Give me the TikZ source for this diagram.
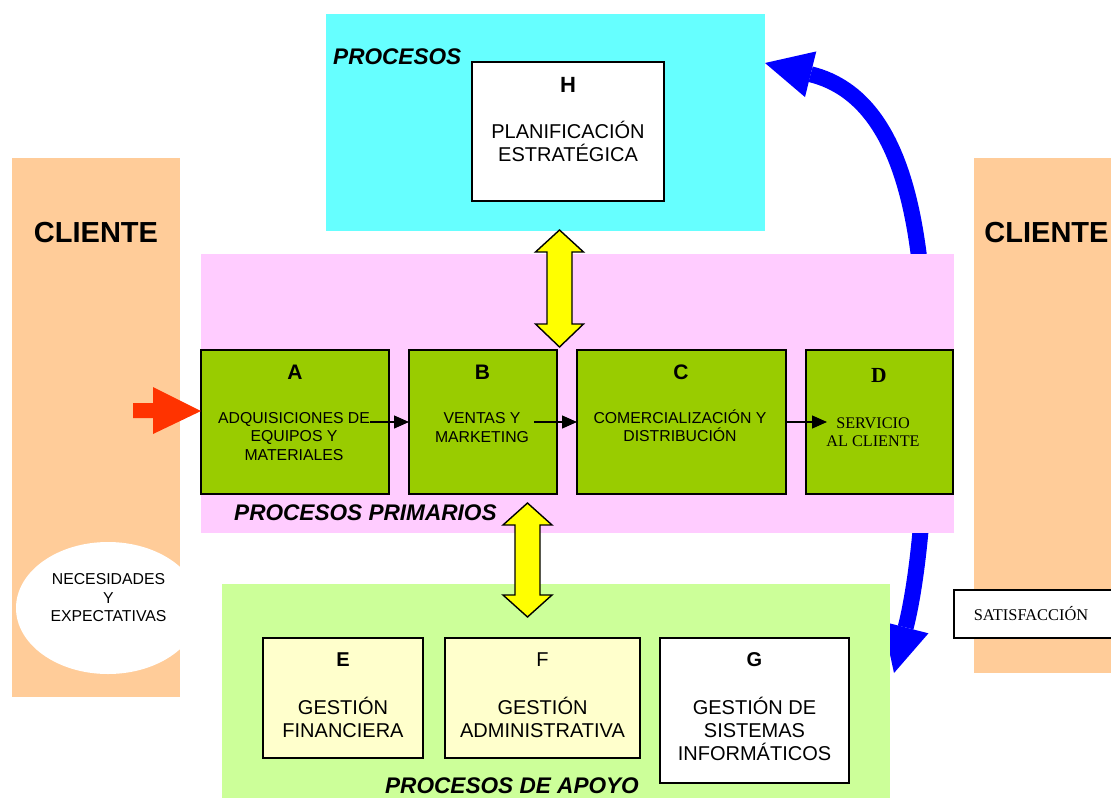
\documentclass[tikz,border=0pt]{standalone}
\usepackage{fontspec}
\setmainfont{Liberation Sans}
\newfontfamily\serifface{Liberation Serif}
\usetikzlibrary{arrows.meta,shapes.geometric}

\definecolor{cyanbg}{HTML}{66FFFF}
\definecolor{pinkbg}{HTML}{FFCCFF}
\definecolor{applebg}{HTML}{CCFF99}
\definecolor{peach}{HTML}{FFCC99}
\definecolor{olive}{HTML}{99CC00}
\definecolor{cream}{HTML}{FFFFCC}
\definecolor{arrowred}{HTML}{FF3300}
\definecolor{flowblue}{HTML}{0000FF}
\definecolor{arrowyellow}{HTML}{FFFF00}

\newcommand\setfs[2]{\fontsize{#1}{#2}\selectfont}

\begin{document}
\begin{tikzpicture}[x=1pt,y=-1pt,
  region/.style={inner sep=0, outer sep=0, anchor=north west},
  box/.style={draw=black, line width=1.6, inner sep=0, outer sep=0, anchor=north west},
  txt/.style={inner sep=0, outer sep=0, align=center},
  letter/.style={txt, font=\bfseries\setfs{21}{24}},
  primtext/.style={txt, font=\setfs{15.8}{18.5}},
  supptext/.style={txt, font=\setfs{20}{23}},
  title/.style={inner sep=0, font=\bfseries\itshape\setfs{22.6}{26}},
  client/.style={txt, font=\bfseries\setfs{29}{34}},
  flow/.style={line width=1.2, -{Triangle[width=13pt,length=15pt]}},
  dblarrow/.style={fill=arrowyellow, draw=black, line width=1.4, line join=miter},
]
\useasboundingbox (0,0) rectangle (1111,798);

% customer columns
\node[region, fill=peach, minimum width=168, minimum height=539] (clientL) at (12,158) {};
\node[region, fill=peach, minimum width=137, minimum height=515] (clientR) at (974,158) {};
\node[client] (clientLtxt) at (96,233) {CLIENTE};
\node[client] (clientRtxt) at (1046.5,233) {CLIENTE};

% needs and expectations
\node[ellipse, fill=white, minimum width=184, minimum height=132, inner sep=0] (needs) at (108,608) {};
\node[primtext] (needstxt) at (108.5,598) {NECESIDADES\\Y\\EXPECTATIVAS};

% strategic processes band
\node[region, fill=cyanbg, minimum width=439, minimum height=217] (strat) at (326,14) {};
\node[title, anchor=west] (strattitle) at (333,57) {PROCESOS};
\node[box, fill=white, minimum width=192, minimum height=139] (H) at (472,62) {};
\node[letter, font=\bfseries\setfs{22}{24}] (Hl) at (568,84.5) {H};
\node[supptext] (Ht) at (568,141.5) {PLANIFICACIÓN\\ESTRATÉGICA};

% feedback loop (its middle runs behind the primary band)
\coordinate (loopLow) at (894,673);
\coordinate (loopMid) at (926,400);
\coordinate (loopHigh) at (765,63);
\draw[flowblue, line width=16,
  {Triangle[width=47pt,length=47pt,line width=0pt]}-{Triangle[width=47pt,length=47pt,line width=0pt]}]
  (loopLow) .. controls (914,595) and (926,520) .. (loopMid)
            .. controls (926,260) and (915,100) .. (loopHigh);

% primary processes band
\node[region, fill=pinkbg, minimum width=753, minimum height=279] (prim) at (201,254) {};
\node[title, anchor=west] (primtitle) at (234,513) {PROCESOS PRIMARIOS};

\node[box, fill=olive, minimum width=188, minimum height=144] (A) at (201,350) {};
\node[box, fill=olive, minimum width=148, minimum height=144] (B) at (409,350) {};
\node[box, fill=olive, minimum width=209, minimum height=144] (C) at (577,350) {};
\node[box, fill=olive, minimum width=147, minimum height=144] (D) at (806,350) {};

\node[letter] (Al) at (295,372) {A};
\node[letter] (Bl) at (482.5,372) {B};
\node[letter] (Cl) at (681,372) {C};
\node[letter, font=\serifface\bfseries\setfs{21.5}{24}] (Dl) at (879,375.5) {D};

\node[primtext] (At) at (294,436.5) {ADQUISICIONES DE\\EQUIPOS Y\\MATERIALES};
\node[primtext] (Bt) at (482,427.5) {VENTAS Y\\MARKETING};
\node[primtext] (Ct) at (680,425.5) {COMERCIALIZACIÓN Y\\DISTRIBUCIÓN};
\node[primtext, font=\serifface\setfs{16.2}{18.5}] (Dt) at (873,432) {SERVICIO\\AL CLIENTE};

\coordinate (ab) at (370,422);
\coordinate (bc) at (534,422);
\coordinate (cd) at (827,422);
\draw[flow] (ab) -- (ab -| B.west);
\draw[flow] (bc) -- (bc -| C.west);
\draw[flow] (cd -| C.east) -- (cd);

% customer input
\fill[arrowred] (133,403) -- (153,403) -- (153,387) -- (A.west |- 0,411) -- (153,434) -- (153,418) -- (133,418) -- cycle;

% support processes band
\node[region, fill=applebg, minimum width=668, minimum height=214] (supp) at (222,584) {};
\node[title] (supptitle) at (512,786) {PROCESOS DE APOYO};

\node[box, fill=cream, minimum width=160, minimum height=120] (E) at (263,638) {};
\node[box, fill=cream, minimum width=195, minimum height=120] (F) at (445,638) {};
\node[box, fill=white, minimum width=189, minimum height=145] (G) at (660,638) {};

\node[letter, font=\bfseries\setfs{20}{23}] (El) at (343,660) {E};
\node[letter, font=\setfs{20}{23}] (Fl) at (542.5,660) {F};
\node[letter, font=\bfseries\setfs{20}{23}] (Gl) at (754.5,660) {G};
\node[supptext] (Et) at (343,717.5) {GESTIÓN\\FINANCIERA};
\node[supptext] (Ft) at (542.5,717.5) {GESTIÓN\\ADMINISTRATIVA};
\node[supptext] (Gt) at (754.5,728.5) {GESTIÓN DE\\SISTEMAS\\INFORMÁTICOS};

% links between the bands
\filldraw[dblarrow] (559.5,230) -- (583.5,252) -- (572,252) -- (572,324) -- (583.5,324)
  -- (559.5,347) -- (535.5,324) -- (547,324) -- (547,252) -- (535.5,252) -- cycle;
\filldraw[dblarrow] (527.5,503) -- (552,525) -- (540,525) -- (540,595) -- (552,595)
  -- (527.5,617) -- (503,595) -- (515,595) -- (515,525) -- (503,525) -- cycle;

% outcome
\node[draw=black, fill=white, line width=1.5, anchor=west, minimum height=48,
      text width=150, inner xsep=20, align=left,
      font=\serifface\setfs{16.4}{18}] (sat) at (953,614) {SATISFACCIÓN};
\end{tikzpicture}
\end{document}
